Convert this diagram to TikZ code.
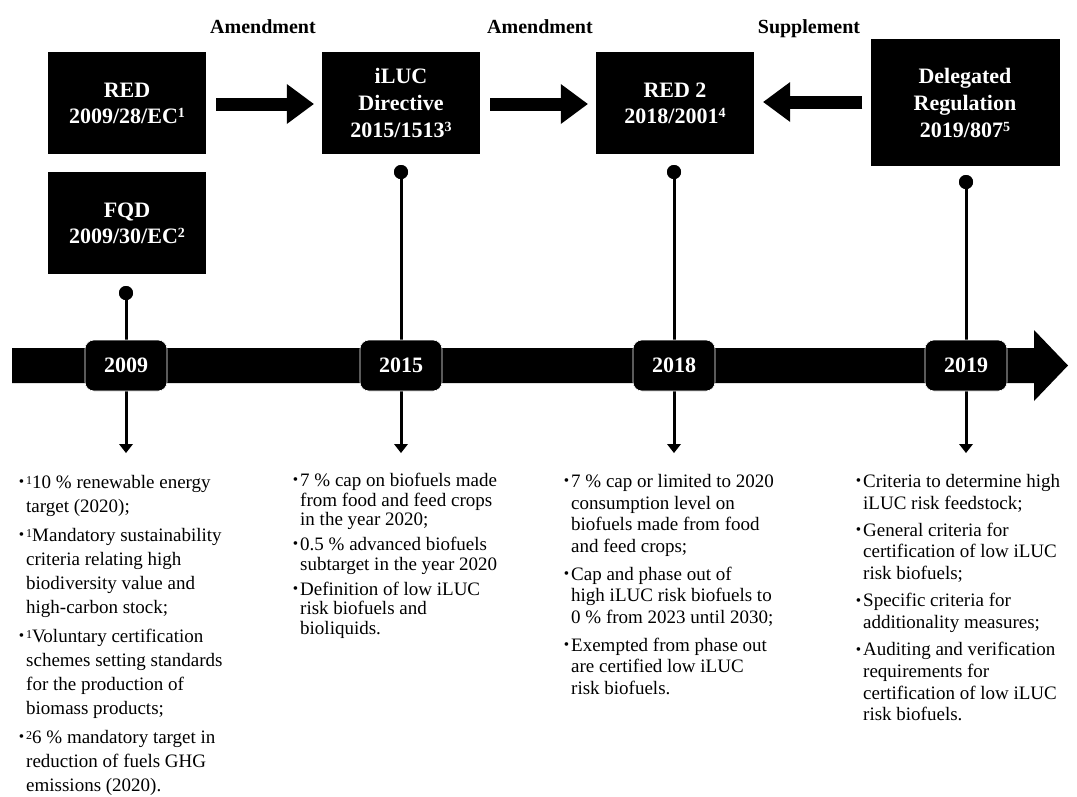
\documentclass[tikz,border=0pt]{standalone}
\usepackage{fontspec}
\setmainfont{Liberation Serif}
\usetikzlibrary{arrows.meta,calc}
\newcommand{\bul}{\llap{\raisebox{0.2ex}{\scalebox{0.8}{\textbullet}}\hspace{2pt}}}
\newcommand{\sups}[1]{\raisebox{0.5ex}{\fontsize{12}{12}\selectfont #1}}
\newcommand{\bsups}[1]{\raisebox{0.55ex}{\fontsize{14}{14}\selectfont #1}}
\begin{document}
\begin{tikzpicture}[x=1pt,y=-1pt,
  docbox/.style={fill=black, text=white, font=\bfseries\fontsize{22}{26}\selectfont, align=center, inner sep=0pt, minimum height=102pt, minimum width=158pt},
  relarrow/.style={line width=13pt, -{Triangle[length=27pt,width=40pt,line width=0pt]}},
  relabel/.style={font=\bfseries\fontsize{20}{22}\selectfont, inner sep=0pt, anchor=base},
  yeartab/.style={fill=black, draw=white, line width=0.6pt, rounded corners=9pt, minimum width=82pt, minimum height=51pt, text=white, font=\bfseries\fontsize{22}{24}\selectfont, inner sep=0pt},
  pindot/.style={circle, fill=black, minimum size=14pt, inner sep=0pt},
  stem/.style={line width=3pt, -{Triangle[length=9pt,width=14pt,line width=0pt]}},
  notes/.style={anchor=north west, align=left, inner sep=0pt}
]
\useasboundingbox (0,0) rectangle (1077,796);

% stems (drawn first, behind the timeline)
\node[pindot] (p09) at (126,293) {};
\node[pindot] (p15) at (401,172) {};
\node[pindot] (p18) at (674,172) {};
\node[pindot] (p19) at (966,182) {};
\coordinate (e09) at (126,453);
\coordinate (e15) at (401,453);
\coordinate (e18) at (674,453);
\coordinate (e19) at (966,453);
\draw[stem] (p09.center) -- (e09);
\draw[stem] (p15.center) -- (e15);
\draw[stem] (p18.center) -- (e18);
\draw[stem] (p19.center) -- (e19);
\node[pindot] at (p09) {};
\node[pindot] at (p15) {};
\node[pindot] at (p18) {};
\node[pindot] at (p19) {};

% timeline
\fill (12,348) -- (1034,348) -- (1034,330) -- (1068,365.5) -- (1034,401) -- (1034,383) -- (12,383) -- cycle;
\node[yeartab] (y09) at (126,365.5) {2009};
\node[yeartab] (y15) at (401,365.5) {2015};
\node[yeartab] (y18) at (674,365.5) {2018};
\node[yeartab] (y19) at (966,365.5) {2019};

% document boxes
\node[docbox] (red) at (127,103) {RED\\2009/28/EC\bsups{1}};
\node[docbox] (fqd) at (127,223) {FQD\\2009/30/EC\bsups{2}};
\node[docbox, font=\bfseries\fontsize{22}{27}\selectfont] (iluc) at (401,103) {iLUC\\Directive\\2015/1513\bsups{3}};
\node[docbox] (red2) at (675,103) {RED 2\\2018/2001\bsups{4}};
\node[docbox, minimum width=189pt, minimum height=127pt, font=\bfseries\fontsize{22}{27}\selectfont] (deleg) at (965,102.5) {Delegated\\Regulation\\2019/807\bsups{5}};

% relation arrows
\draw[relarrow] ($(red.east)+(10,1)$) -- ($(iluc.west)+(-8,1)$);
\draw[relarrow] ($(iluc.east)+(10,1)$) -- ($(red2.west)+(-8,1)$);
\draw[relarrow] ($(deleg.west)+(-8,-0.5)$) -- ($(red2.east)+(9,-1)$);

\node[relabel] (l1) at (263,33) {Amendment};
\node[relabel] (l2) at (540,33) {Amendment};
\node[relabel] (l3) at (809,33) {Supplement};

% notes
\node[notes, font=\fontsize{19}{24}\selectfont] (n09) at (26,475) {%
\bul\sups{1}10 \% renewable energy\\ target (2020);\\[5pt]
\bul\sups{1}Mandatory sustainability\\ criteria relating high\\ biodiversity value and\\ high-carbon stock;\\[5pt]
\bul\sups{1}Voluntary certification\\ schemes setting standards\\ for the production of\\ biomass products;\\[5pt]
\bul\sups{2}6 \% mandatory target in\\ reduction of fuels GHG\\ emissions (2020).};

\node[notes, font=\fontsize{19}{19.5}\selectfont] (n15) at (300,473) {%
\bul 7 \% cap on biofuels made\\ from food and feed crops\\ in the year 2020;\\[5.5pt]
\bul 0.5 \% advanced biofuels\\ subtarget in the year 2020\\[5.5pt]
\bul Definition of low iLUC\\ risk biofuels and\\ bioliquids.};

\node[notes, font=\fontsize{19}{21.7}\selectfont] (n18) at (571,474) {%
\bul 7 \% cap or limited to 2020\\ consumption level on\\ biofuels made from food\\ and feed crops;\\[6pt]
\bul Cap and phase out of\\ high iLUC risk biofuels to\\ 0 \% from 2023 until 2030;\\[6pt]
\bul Exempted from phase out\\ are certified low iLUC\\ risk biofuels.};

\node[notes, font=\fontsize{19}{21.7}\selectfont] (n19) at (863,474) {%
\bul Criteria to determine high\\ iLUC risk feedstock;\\[5.5pt]
\bul General criteria for\\ certification of low iLUC\\ risk biofuels;\\[5.5pt]
\bul Specific criteria for\\ additionality measures;\\[5.5pt]
\bul Auditing and verification\\ requirements for\\ certification of low iLUC\\ risk biofuels.};
\end{tikzpicture}
\end{document}
